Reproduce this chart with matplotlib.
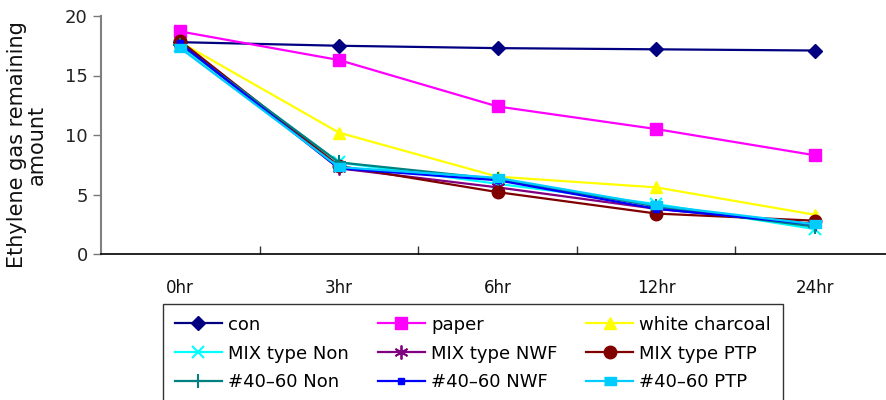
import matplotlib
matplotlib.use("Agg")
import matplotlib.pyplot as plt

plt.rcParams['font.family'] = ['DejaVu Sans']

times = ["0hr", "3hr", "6hr", "12hr", "24hr"]

con = [17.8, 17.5, 17.3, 17.2, 17.1]
paper = [18.7, 16.3, 12.4, 10.5, 8.3]
white_charcoal = [17.8, 10.2, 6.5, 5.6, 3.3]
mix_non = [17.5, 7.7, 5.9, 4.2, 2.1]
mix_nwf = [17.7, 7.2, 5.6, 3.8, 2.5]
mix_ptp = [17.9, 7.4, 5.2, 3.4, 2.8]
s4060_non = [17.6, 7.7, 6.3, 4.0, 2.3]
s4060_nwf = [17.7, 7.2, 6.2, 3.8, 2.5]
s4060_ptp = [17.3, 7.3, 6.4, 4.1, 2.5]

rect = [(-1.6, -1), (1.6, -1), (1.6, 1), (-1.6, 1)]

series = [
    ("con", con, "#000080", "D", 7, {}),
    ("paper", paper, "#FF00FF", "s", 9, {}),
    ("white charcoal", white_charcoal, "#FFFF00", "^", 9, {}),
    ("MIX type Non", mix_non, "#00FFFF", "x", 9, {"markeredgewidth": 1.5}),
    ("MIX type NWF", mix_nwf, "#800080", (6, 2, 0), 10, {"markeredgewidth": 1.3}),
    ("MIX type PTP", mix_ptp, "#800000", "o", 9, {}),
    ("#40\u201360 Non", s4060_non, "#008080", "+", 10, {"markeredgewidth": 1.5}),
    ("#40\u201360 NWF", s4060_nwf, "#0000FF", "s", 4, {}),
    ("#40\u201360 PTP", s4060_ptp, "#00CCFF", rect, 9, {}),
]

fig = plt.figure(figsize=(8.86, 4.0), dpi=100)
ax = fig.add_axes([101 / 886, 1 - 254 / 400, (894 - 101) / 886, (254 - 16) / 400])

x = list(range(len(times)))
handles = []
for label, vals, color, marker, ms, extra in series:
    ln, = ax.plot(x, vals, color=color, lw=1.6, marker=marker, ms=ms,
                  markerfacecolor=color, markeredgecolor=color, zorder=3,
                  label=label, **extra)
    handles.append(ln)

ax.set_xlim(-0.5, 4.5)
ax.set_ylim(0, 20)
ax.set_yticks([0, 5, 10, 15, 20])
ax.set_xticks(x)
ax.set_xticklabels(times)
ax.set_xticks([0.5, 1.5, 2.5, 3.5], minor=True)
ax.tick_params(axis="x", which="major", length=0, pad=18, labelsize=12, labelcolor="#111111")
ax.tick_params(axis="x", which="minor", direction="in", length=6, width=1, color="#333333")
ax.tick_params(axis="y", direction="out", length=6, width=1, color="#777777",
               labelsize=13, labelcolor="#222222")
for s in ("top", "right"):
    ax.spines[s].set_visible(False)
ax.spines["left"].set_color("#808080")
ax.spines["left"].set_linewidth(1.5)
ax.spines["bottom"].set_color("#000000")
ax.spines["bottom"].set_linewidth(1.2)

fig.text(27 / 886, 1 - 145 / 400, "Ethylene gas remaining\namount", rotation=90,
         ha="center", va="center", fontsize=15, linespacing=0.95, color="#111111")

# legend filled row by row: 3 columns
order = [0, 3, 6, 1, 4, 7, 2, 5, 8]
leg = fig.legend(handles=[handles[i] for i in order], ncol=3, loc="upper left",
                 bbox_to_anchor=(163 / 886, 1 - 304 / 400), borderaxespad=0,
                 fontsize=13, frameon=True, fancybox=False, edgecolor="#000000",
                 handlelength=2.6, columnspacing=1.6, handletextpad=0.35,
                 labelspacing=0.6, borderpad=0.65)
leg.get_frame().set_linewidth(1.0)

fig.savefig("out.png", dpi=100)
